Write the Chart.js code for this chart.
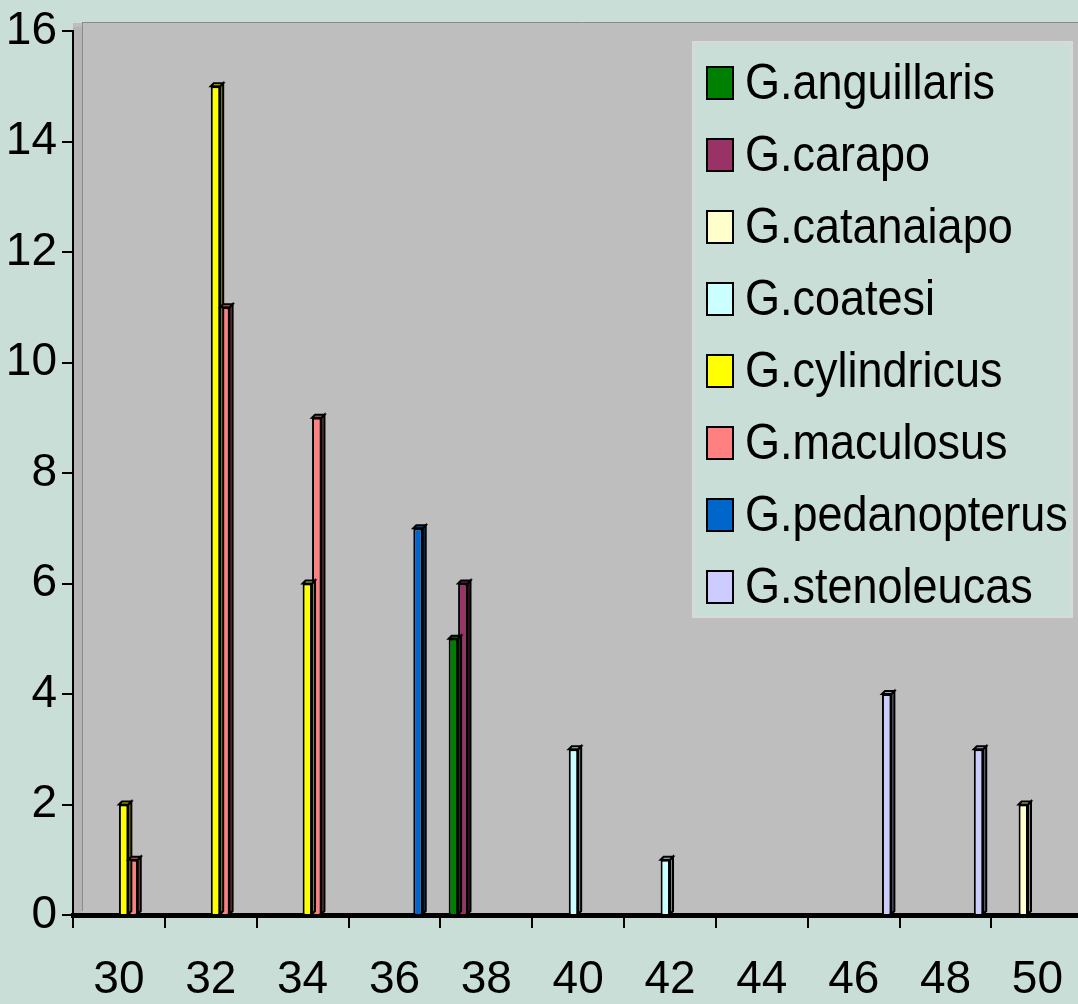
<!DOCTYPE html>
<html lang="en">
<head>
    <meta charset="UTF-8">
    <title>Gymnotus counts by size class</title>
    <script src="https://cdn.jsdelivr.net/npm/chart.js"></script>
    <style>
        html, body { margin: 0; padding: 0; overflow: hidden; background: #c8ded6; }
        #wrap { position: relative; width: 1092px; height: 1004px; }
    </style>
</head>
<body>
    <div id="wrap"><canvas id="fishChart"></canvas></div>

    <script>
        // size classes on the x axis
        const categories = ['30', '32', '34', '36', '38', '40', '42', '44', '46', '48', '50'];
        const yTicks = [0, 2, 4, 6, 8, 10, 12, 14, 16];

        // counts per species (null = no bar)
        const anguillaris  = [null, null, null, null, 5, null, null, null, null, null, null];
        const carapo       = [null, null, null, null, 6, null, null, null, null, null, null];
        const catanaiapo   = [null, null, null, null, null, null, null, null, null, null, 2];
        const coatesi      = [null, null, null, null, null, 3, 1, null, null, null, null];
        const cylindricus  = [2, 15, 6, null, null, null, null, null, null, null, null];
        const maculosus    = [1, 11, 9, null, null, null, null, null, null, null, null];
        const pedanopterus = [null, null, null, 7, null, null, null, null, null, null, null];
        const stenoleucas  = [null, null, null, null, null, null, null, null, 4, 3, null];

        const FONT = "'Liberation Sans', Arial, sans-serif";

        const series = [
            { label: 'G.anguillaris', data: anguillaris, color: '#008000' },
            { label: 'G.carapo', data: carapo, color: '#993366' },
            { label: 'G.catanaiapo', data: catanaiapo, color: '#ffffcc' },
            { label: 'G.coatesi', data: coatesi, color: '#ccffff' },
            { label: 'G.cylindricus', data: cylindricus, color: '#ffff00' },
            { label: 'G.maculosus', data: maculosus, color: '#ff8080' },
            { label: 'G.pedanopterus', data: pedanopterus, color: '#0066cc' },
            { label: 'G.stenoleucas', data: stenoleucas, color: '#ccccff' }
        ];

        function shade(hex, f) {
            const n = parseInt(hex.slice(1), 16);
            const r = Math.round(((n >> 16) & 255) * f);
            const g = Math.round(((n >> 8) & 255) * f);
            const b = Math.round((n & 255) * f);
            return `rgb(${r},${g},${b})`;
        }

        // grey back wall behind the bars
        const plotBackground = {
            id: 'plotBackground',
            beforeDraw(chart) {
                const { ctx, chartArea: a } = chart;
                ctx.save();
                ctx.fillStyle = '#bebebe';
                ctx.fillRect(a.left, a.top - 8, a.right - a.left, a.bottom - a.top + 8);
                ctx.fillStyle = '#b4b4b4';
                ctx.fillRect(a.left, a.top - 4, 9, a.bottom - a.top + 4);
                ctx.strokeStyle = '#8a8a8a';
                ctx.lineWidth = 1;
                ctx.beginPath();
                ctx.moveTo(a.left + 9.5, a.top - 8);
                ctx.lineTo(a.left + 9.5, a.bottom - 4);
                ctx.moveTo(a.left + 9, a.top - 8.5);
                ctx.lineTo(a.right, a.top - 8.5);
                ctx.stroke();
                ctx.restore();
            }
        };

        // fake 3D depth on each bar (side + top faces)
        const barDepth = {
            id: 'barDepth',
            afterDatasetsDraw(chart) {
                const { ctx } = chart;
                const d = 3;
                ctx.save();
                chart.data.datasets.forEach((ds, i) => {
                    const meta = chart.getDatasetMeta(i);
                    meta.data.forEach((bar, j) => {
                        if (ds.data[j] == null) return;
                        const { x, y, width, base } = bar.getProps(['x', 'y', 'width', 'base'], true);
                        const l = x - width / 2, r = x + width / 2;
                        ctx.lineWidth = 2;
                        ctx.strokeStyle = '#000';
                        ctx.fillStyle = shade(series[i].color, 0.55);
                        ctx.beginPath();
                        ctx.moveTo(r, y);
                        ctx.lineTo(r + d, y - d);
                        ctx.lineTo(r + d, base - d);
                        ctx.lineTo(r, base);
                        ctx.closePath();
                        ctx.fill();
                        ctx.stroke();
                        ctx.fillStyle = shade(series[i].color, 0.8);
                        ctx.beginPath();
                        ctx.moveTo(l, y);
                        ctx.lineTo(l + d, y - d);
                        ctx.lineTo(r + d, y - d);
                        ctx.lineTo(r, y);
                        ctx.closePath();
                        ctx.fill();
                        ctx.stroke();
                    });
                });
                ctx.restore();
            }
        };

        // boxed legend inside the plot, top right
        const boxLegend = {
            id: 'boxLegend',
            afterDraw(chart) {
                const { ctx } = chart;
                const bx = 693, by = 42, bw = 379, bh = 575;
                ctx.save();
                ctx.fillStyle = '#c8ded6';
                ctx.fillRect(bx, by, bw, bh);
                ctx.strokeStyle = '#d9d9d9';
                ctx.lineWidth = 2;
                ctx.strokeRect(bx, by, bw, bh);
                ctx.textBaseline = 'middle';
                chart.data.datasets.forEach((ds, i) => {
                    const cy = 83 + i * 72;
                    ctx.fillStyle = ds.backgroundColor;
                    ctx.fillRect(707, cy - 16, 26, 32);
                    ctx.strokeStyle = '#000';
                    ctx.lineWidth = 2;
                    ctx.strokeRect(707, cy - 16, 26, 32);
                    // squeeze the text a little, the original font is narrow
                    ctx.save();
                    ctx.translate(745, cy + 2);
                    ctx.scale(0.9, 1);
                    ctx.font = '50px ' + FONT;
                    ctx.fillStyle = '#000';
                    ctx.fillText(ds.label, 0, 0);
                    ctx.restore();
                });
                ctx.restore();
            }
        };

        const ctx = document.getElementById('fishChart').getContext('2d');
        const chart = new Chart(ctx, {
            type: 'bar',
            data: {
                labels: categories,
                datasets: series.map(s => ({
                    label: s.label,
                    data: s.data,
                    backgroundColor: s.color,
                    borderColor: '#000',
                    borderWidth: 2,
                    borderSkipped: 'bottom',
                    categoryPercentage: 0.82,
                    barPercentage: 1
                }))
            },
            options: {
                responsive: true,
                maintainAspectRatio: false,
                animation: false,
                layout: { padding: { top: 31, right: 0, left: 0, bottom: 0 } },
                plugins: {
                    legend: { display: false },
                    tooltip: { enabled: false }
                },
                scales: {
                    x: {
                        afterFit: s => { s.height = 89; },
                        grid: { drawOnChartArea: false, color: '#000', tickLength: 13, lineWidth: 2 },
                        border: { color: '#000', width: 5 },
                        ticks: { color: '#000', padding: 29, font: { family: FONT, size: 46, lineHeight: 1 } }
                    },
                    y: {
                        min: 0,
                        max: 16,
                        afterFit: s => { s.width = 73; },
                        afterBuildTicks: s => { s.ticks = yTicks.map(v => ({ value: v })); },
                        grid: { drawOnChartArea: false, color: '#000', tickLength: 11, lineWidth: 2 },
                        border: { color: '#000', width: 2 },
                        ticks: { color: '#000', padding: 5, font: { family: FONT, size: 46, lineHeight: 1 } }
                    }
                }
            },
            plugins: [plotBackground, barDepth, boxLegend]
        });
    </script>
</body>
</html>
